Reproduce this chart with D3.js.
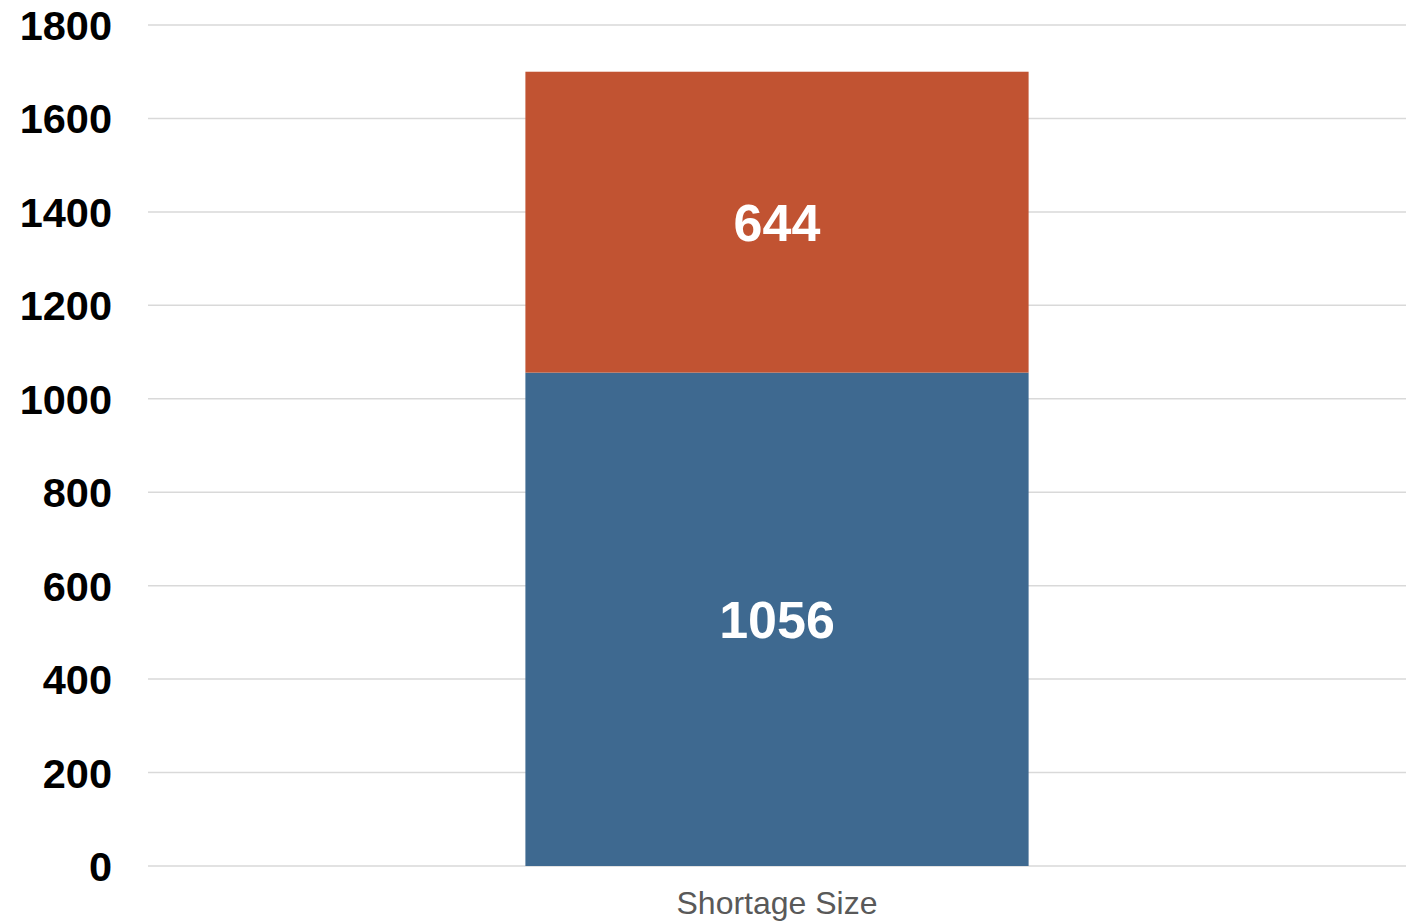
<!DOCTYPE html>
<html><head><meta charset="utf-8">
<script src="https://cdn.jsdelivr.net/npm/d3@7"></script>
<style>html,body{margin:0;padding:0;background:#fff;}</style>
</head><body>
<svg id="chart" width="1421" height="921"></svg>
<script>
const categories = ["Shortage Size"];
const seriesNames = ["Lower", "Upper"];
const lowerValues = [1056];
const upperValues = [644];
const colors = ["#3E6990", "#C15332"];
const yTicks = [0, 200, 400, 600, 800, 1000, 1200, 1400, 1600, 1800];

(function () {
const svg = d3.select("#chart");
const mLeft = 148, mRight = 1406, mTop = 25, mBottom = 866;

const x = d3.scaleBand().domain(categories).range([mLeft, mRight]).paddingInner(0.6).paddingOuter(0.3);
const y = d3.scaleLinear().domain([0, 1800]).range([mBottom, mTop]);

// gridlines
svg.append("g").selectAll("line").data(yTicks).join("line")
  .attr("x1", mLeft).attr("x2", mRight)
  .attr("y1", d => y(d)).attr("y2", d => y(d))
  .attr("stroke", "#d9d9d9").attr("stroke-width", 1.5);

// y axis labels
const yAxis = d3.axisLeft(y).tickValues(yTicks).tickSize(0).tickPadding(0).tickFormat(d3.format("d"));
const ga = svg.append("g").attr("transform", `translate(112,0)`).call(yAxis);
ga.select(".domain").remove();
ga.selectAll("text").attr("font-family", "Liberation Sans, Arial, sans-serif")
  .attr("font-weight", "bold").attr("font-size", 41.5).attr("fill", "#000").attr("dy", "0.35em");

// stacked data
const rows = categories.map((c, i) => ({cat: c, Lower: lowerValues[i], Upper: upperValues[i]}));
const stack = d3.stack().keys(seriesNames)(rows);

const layers = svg.append("g").selectAll("g").data(stack).join("g").attr("fill", (d, i) => colors[i]);
layers.selectAll("rect").data(d => d).join("rect")
  .attr("x", d => x(d.data.cat)).attr("width", x.bandwidth())
  .attr("y", d => y(d[1])).attr("height", d => y(d[0]) - y(d[1]));

layers.selectAll("text").data(d => d).join("text")
  .attr("x", d => x(d.data.cat) + x.bandwidth() / 2)
  .attr("y", d => (y(d[0]) + y(d[1])) / 2)
  .attr("dy", "0.36em").attr("text-anchor", "middle")
  .attr("font-family", "Liberation Sans, Arial, sans-serif").attr("font-weight", "bold")
  .attr("font-size", 52).attr("fill", "#fff")
  .text(d => d[1] - d[0]);

// x axis labels
const xAxis = d3.axisBottom(x).tickSize(0).tickPadding(0);
const gx = svg.append("g").attr("transform", `translate(0,${mBottom})`).call(xAxis);
gx.select(".domain").remove();
gx.selectAll("text").attr("font-family", "Liberation Sans, Arial, sans-serif")
  .attr("font-size", 32).attr("fill", "#595959").attr("dy", null).attr("y", 48);
})();
</script>
</body></html>
